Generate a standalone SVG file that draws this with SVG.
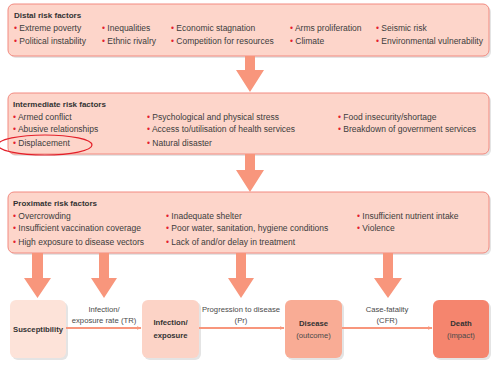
<svg xmlns="http://www.w3.org/2000/svg" width="491" height="371" viewBox="0 0 491 371">
<defs>
<style>
.box{fill:#fdd5ca;stroke:#f28a80;stroke-width:1}
.sh{fill:#e4e4e4}
.t{font-family:"Liberation Sans",Arial,sans-serif;font-size:8.5px;fill:#3c3c3c}
.h{font-family:"Liberation Sans",Arial,sans-serif;font-size:8px;font-weight:bold;fill:#333}
.b{fill:#e4202e}
.big{fill:#f8967c}
.nl{font-family:"Liberation Sans",Arial,sans-serif;font-size:7.7px;fill:#4a4a4a;text-anchor:middle}
.nb{font-family:"Liberation Sans",Arial,sans-serif;font-size:7.7px;font-weight:bold;fill:#333;text-anchor:middle}
.conn{stroke:#f8967c;stroke-width:2;fill:none}
</style>
<marker id="ah" viewBox="0 0 10 10" refX="9" refY="5" markerWidth="5" markerHeight="5" orient="auto" markerUnits="userSpaceOnUse">
<path d="M0,1 L10,5 L0,9 z" fill="#f8967c"/>
</marker>
</defs>
<rect width="491" height="371" fill="#fff"/>

<g id="distal">
<rect class="sh" x="10" y="6" width="481" height="52" rx="6"/>
<rect class="box" x="8" y="4" width="481" height="52" rx="6"/>
<text class="h" x="14" y="18">Distal risk factors</text>
<text class="t" x="14" y="31"><tspan class="b">•</tspan> Extreme poverty</text>
<text class="t" x="14" y="44"><tspan class="b">•</tspan> Political instability</text>
<text class="t" x="102" y="31"><tspan class="b">•</tspan> Inequalities</text>
<text class="t" x="102" y="44"><tspan class="b">•</tspan> Ethnic rivalry</text>
<text class="t" x="171" y="31"><tspan class="b">•</tspan> Economic stagnation</text>
<text class="t" x="171" y="44"><tspan class="b">•</tspan> Competition for resources</text>
<text class="t" x="290" y="31"><tspan class="b">•</tspan> Arms proliferation</text>
<text class="t" x="290" y="44"><tspan class="b">•</tspan> Climate</text>
<text class="t" x="376" y="31"><tspan class="b">•</tspan> Seismic risk</text>
<text class="t" x="376" y="44"><tspan class="b">•</tspan> Environmental vulnerability</text>
</g>

<g id="intermediate">
<rect class="sh" x="10" y="95" width="481" height="61" rx="6"/>
<rect class="box" x="8" y="93" width="481" height="61" rx="6"/>
<text class="h" x="13" y="107">Intermediate risk factors</text>
<text class="t" x="13" y="120"><tspan class="b">•</tspan> Armed conflict</text>
<text class="t" x="13" y="132"><tspan class="b">•</tspan> Abusive relationships</text>
<text class="t" x="13" y="146"><tspan class="b">•</tspan> Displacement</text>
<text class="t" x="147" y="120"><tspan class="b">•</tspan> Psychological and physical stress</text>
<text class="t" x="147" y="132"><tspan class="b">•</tspan> Access to/utilisation of health services</text>
<text class="t" x="147" y="146"><tspan class="b">•</tspan> Natural disaster</text>
<text class="t" x="338" y="120"><tspan class="b">•</tspan> Food insecurity/shortage</text>
<text class="t" x="338" y="132"><tspan class="b">•</tspan> Breakdown of government services</text>
<ellipse cx="45" cy="145" rx="47" ry="10" fill="none" stroke="#e3202a" stroke-width="1.2"/>
</g>

<g id="proximate">
<rect class="sh" x="10" y="194" width="481" height="61" rx="6"/>
<rect class="box" x="8" y="192" width="481" height="61" rx="6"/>
<text class="h" x="13" y="206">Proximate risk factors</text>
<text class="t" x="13" y="219"><tspan class="b">•</tspan> Overcrowding</text>
<text class="t" x="13" y="231"><tspan class="b">•</tspan> Insufficient vaccination coverage</text>
<text class="t" x="13" y="245"><tspan class="b">•</tspan> High exposure to disease vectors</text>
<text class="t" x="166" y="219"><tspan class="b">•</tspan> Inadequate shelter</text>
<text class="t" x="166" y="231"><tspan class="b">•</tspan> Poor water, sanitation, hygiene conditions</text>
<text class="t" x="166" y="245"><tspan class="b">•</tspan> Lack of and/or delay in treatment</text>
<text class="t" x="357" y="219"><tspan class="b">•</tspan> Insufficient nutrient intake</text>
<text class="t" x="357" y="231"><tspan class="b">•</tspan> Violence</text>
</g>

<g id="susceptibility">
<rect class="sh" x="12" y="302" width="56" height="58" rx="6"/>
<rect x="10" y="300" width="56" height="58" rx="6" fill="#fde3d9"/>
<text class="nb" x="38" y="332">Susceptibility</text>
</g>
<g id="infection">
<rect class="sh" x="144" y="302" width="57" height="58" rx="6"/>
<rect x="142" y="300" width="57" height="58" rx="6" fill="#fcd3c6"/>
<text class="nb" x="170.5" y="325">Infection/</text>
<text class="nb" x="170.5" y="338">exposure</text>
</g>
<g id="disease">
<rect class="sh" x="287" y="302" width="57" height="58" rx="6"/>
<rect x="285" y="300" width="57" height="58" rx="6" fill="#f9ac95"/>
<text class="nb" x="313.5" y="326">Disease</text>
<text class="nl" x="313.5" y="338">(outcome)</text>
</g>
<g id="death">
<rect class="sh" x="435" y="302" width="56" height="58" rx="6"/>
<rect x="433" y="300" width="56" height="58" rx="6" fill="#f5856e"/>
<text class="nb" x="461" y="326">Death</text>
<text class="nl" x="461" y="338">(impact)</text>
</g>

<g id="connectors">
<polygon class="big" points="245,56 255,56 255,70 264,70 250,92 236,70 245,70"/>
<polygon class="big" points="245,154 255,154 255,170 264,170 250,192 236,170 245,170"/>
<polygon class="big" points="32,253 43,253 43,278 51,278 37.5,298 24,278 32,278"/>
<polygon class="big" points="99,253 109,253 109,278 117,278 104,298 91,278 99,278"/>
<polygon class="big" points="236,253 246,253 246,278 254,278 241,298 228,278 236,278"/>
<polygon class="big" points="383,253 393,253 393,278 402,278 388,298 374,278 383,278"/>
<line class="conn" x1="66" y1="328" x2="141" y2="328" marker-end="url(#ah)"/>
<line class="conn" x1="199" y1="328" x2="284" y2="328" marker-end="url(#ah)"/>
<line class="conn" x1="342" y1="328" x2="432" y2="328" marker-end="url(#ah)"/>
<text class="nl" x="104" y="312">Infection/</text>
<text class="nl" x="104" y="323">exposure rate (TR)</text>
<text class="nl" x="241" y="312">Progression to disease</text>
<text class="nl" x="241" y="323">(Pr)</text>
<text class="nl" x="387" y="312">Case-fatality</text>
<text class="nl" x="387" y="323">(CFR)</text>
</g>
</svg>
